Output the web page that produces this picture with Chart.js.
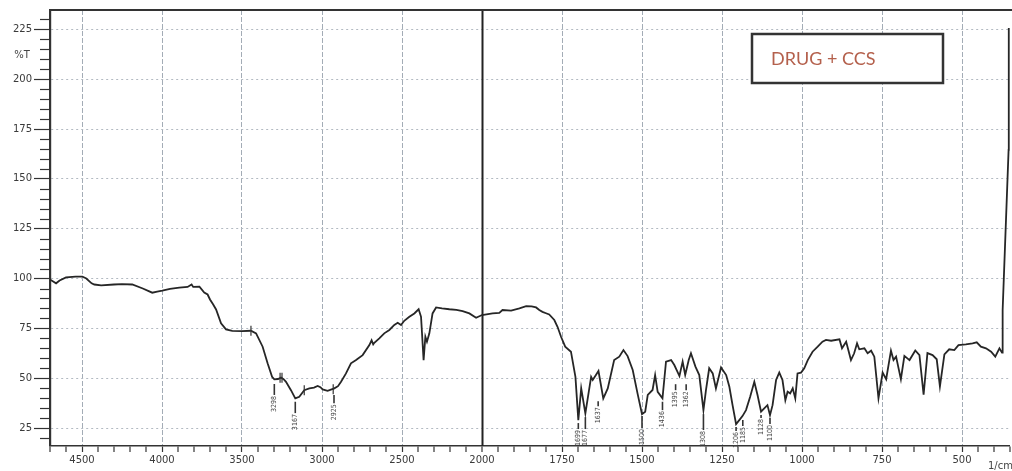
<!DOCTYPE html>
<html><head><meta charset="utf-8">
<script src="https://cdn.jsdelivr.net/npm/chart.js@4.4.1/dist/chart.umd.min.js"></script>
<style>html,body{margin:0;padding:0;background:#fff;overflow:hidden}canvas{display:block}</style>
</head><body>
<canvas id="c" width="1012" height="471"></canvas>
<script>
// ---- data (wavenumber 1/cm, %T) ----
const wavenumbers = [
4704,4690,4662,4640,4600,4540,4498,4473,4440,4423,4380,4300,4250,4186,4120,4061,4030,3998,3950,3892,3840,3815,3805,3766,3736,3715,3700,3680,3662,3631,3600,3561,3500,3444,3412,3371,3340,3312,3298,3275,3256,3240,3225,3194,3167,3142,3111,3079,3050,3027,3010,2996,2965,2923,2900,2881,2850,2819,2787,2746,2704,2690,2680,2673,2642,2611,2579,2548,2527,2506,2486,2454,2423,2396,2381,2365,2354,2344,2329,2309,2287,2250,2204,2160,2121,2079,2037,2000,
1967,1946,1936,1909,1883,1862,1845,1831,1821,1811,1800,1790,1774,1764,1753,1740,1722,1708,1699,1690,1677,1659,1654,1644,1636,1621,1607,1587,1571,1558,1545,1529,1514,1500,1490,1482,1467,1459,1451,1436,1425,1409,1399,1383,1373,1365,1354,1347,1333,1321,1308,1300,1290,1279,1269,1253,1237,1227,1217,1206,1196,1186,1175,1162,1149,1139,1128,1118,1108,1100,1092,1081,1071,1061,1052,1045,1037,1029,1021,1014,1003,993,982,967,951,936,925,909,883,875,862,847,837,828,821,805,795,784,774,761,748,737,722,714,706,691,680,664,646,633,620,608,592,579,569,555,540,524,511,488,467,454,441,425,409,396,383,375,373,354.4,353.8
];
const transmittance = [
99.5,99.0,97.6,99.0,100.6,101.0,101.0,100.0,97.6,97.0,96.6,97.0,97.2,97.0,95.0,92.9,93.4,93.9,94.8,95.4,95.8,97.0,95.8,95.9,93.0,92.0,89.5,87.0,84.5,77.5,74.5,73.7,73.6,73.8,72.5,65.8,57.5,50.7,49.4,49.6,50.3,49.5,48.2,44.0,39.9,40.7,44.0,44.9,45.3,46.1,45.5,44.4,43.7,44.9,46.0,48.2,52.4,57.5,59.1,61.6,66.6,69.0,67.0,67.8,70.0,72.5,74.2,76.7,77.8,76.7,78.8,80.8,82.5,84.6,80.8,59.1,70.8,68.3,72.5,82.5,85.5,85.0,84.6,84.3,83.7,82.5,80.3,81.7,
82.5,82.8,84.2,83.9,85.0,86.2,86.0,85.5,84.2,83.3,82.6,82.0,79.2,75.8,70.8,65.8,63.3,50.7,29.0,44.9,32.4,50.7,49.1,51.6,53.6,39.9,44.9,59.1,60.8,64.1,61.1,54.1,42.4,32.0,33.2,41.6,44.1,51.6,43.2,39.9,58.3,59.1,56.6,51.1,58.3,51.6,59.1,62.5,55.8,51.6,34.0,44.1,55.0,52.4,44.9,55.4,51.6,45.7,36.5,27.0,29.0,31.0,34.0,40.7,48.2,41.6,33.2,34.9,36.5,31.5,36.5,49.1,52.8,49.1,39.0,43.2,42.4,44.9,39.9,52.4,52.8,55.0,59.1,63.3,65.8,68.3,69.2,68.8,69.5,65.0,68.3,59.1,62.5,67.5,64.5,65.0,62.5,63.8,60.8,39.9,52.8,49.5,63.8,59.1,60.8,49.5,61.2,59.1,63.9,61.6,41.8,62.6,61.6,59.5,45.9,62.0,64.5,64.1,66.6,67.0,67.5,68.0,65.8,65.0,63.3,60.8,65.0,62.8,84.2,164.5,225.7
];
const xTickLabels = [4500,4000,3500,3000,2500,2000,1750,1500,1250,1000,750,500];
const yTickLabels = [25,50,75,100,125,150,175,200,225];
// labelled peak markers: wavenumber, bar top / bottom in %T
const peakWn     = [3298,3167,2925,1699,1677,1637,1500,1436,1395,1362,1308,1206,1185,1128,1100];
const peakTop    = [47.1,38.2,41.6,27.5,30.5,38.5,31.0,38.2,47.0,47.0,32.0,25.5,29.0,31.5,30.0];
const peakBottom = [41.6,32.5,37.5,24.5,24.5,36.0,25.0,34.0,44.0,44.0,24.0,23.5,26.0,30.0,27.0];
// small unlabelled marks crossing the trace: wavenumber, centre %T
const crossWn    = [3444,3262,3250,3111,2930];
const crossValue = [73.8,50.2,50.2,44.0,44.5];
const seriesLabel = 'DRUG + CCS';
const yTitle = '%T';
const xUnit = '1/cm';

// ---- axis transform: scale doubles below 2000 1/cm ----
const BREAK = 2000;
const toAxis = w => w > BREAK ? BREAK + (w - BREAK) / 2 : w;
const fromAxis = t => t > BREAK ? BREAK + (t - BREAK) * 2 : t;

const points = wavenumbers.map((w, i) => ({x: toAxis(w), y: transmittance[i]}));
const FONT = '"DejaVu Sans", sans-serif';

const decor = {
  id: 'decor',
  beforeDatasetsDraw(chart) {
    const {ctx, chartArea: a, scales: {x}} = chart;
    ctx.save();
    const px = Math.round(x.getPixelForValue(toAxis(BREAK))) + 0.5;
    ctx.strokeStyle = '#222'; ctx.lineWidth = 2;
    ctx.beginPath(); ctx.moveTo(px, a.top); ctx.lineTo(px, a.bottom); ctx.stroke();
    ctx.strokeStyle = '#333'; ctx.lineWidth = 2;
    ctx.beginPath(); ctx.moveTo(a.left - 1, a.top); ctx.lineTo(chart.width, a.top); ctx.stroke();
    ctx.restore();
  },
  afterDatasetsDraw(chart) {
    const {ctx, chartArea: a, scales: {x, y}} = chart;
    ctx.save();
    // peak markers
    ctx.strokeStyle = '#333'; ctx.lineWidth = 1.6; ctx.fillStyle = '#444';
    ctx.font = '7px "DejaVu Sans Condensed", ' + FONT;
    peakWn.forEach((w, i) => {
      const px = x.getPixelForValue(toAxis(w));
      const y1 = y.getPixelForValue(peakTop[i]), y2 = y.getPixelForValue(peakBottom[i]);
      ctx.beginPath(); ctx.moveTo(px, y1); ctx.lineTo(px, y2); ctx.stroke();
      ctx.save(); ctx.translate(px, y2 + 1); ctx.rotate(-Math.PI / 2);
      ctx.textAlign = 'right'; ctx.textBaseline = 'middle';
      ctx.fillText(String(w), 0, 0); ctx.restore();
    });
    ctx.lineWidth = 1.2;
    crossWn.forEach((w, i) => {
      const px = x.getPixelForValue(toAxis(w));
      ctx.beginPath();
      ctx.moveTo(px, y.getPixelForValue(crossValue[i] + 2.5));
      ctx.lineTo(px, y.getPixelForValue(crossValue[i] - 2.5));
      ctx.stroke();
    });
    // minor y ticks
    ctx.strokeStyle = '#333'; ctx.lineWidth = 1.2;
    for (let v = 20; v <= 230; v += 5) {
      if (v % 25 === 0) continue;
      const py = Math.round(y.getPixelForValue(v)) + 0.5;
      ctx.beginPath(); ctx.moveTo(a.left - 10, py); ctx.lineTo(a.left, py); ctx.stroke();
    }
    // texts
    ctx.fillStyle = '#444'; ctx.font = '10px ' + FONT;
    ctx.textAlign = 'center'; ctx.textBaseline = 'middle';
    ctx.fillText(yTitle, 22, 55);
    ctx.textAlign = 'left';
    ctx.fillText(xUnit, 988, 466);
    // legend box
    ctx.fillStyle = '#fff';
    ctx.fillRect(752, 34, 191, 49);
    ctx.strokeStyle = '#333'; ctx.lineWidth = 2.5;
    ctx.strokeRect(752, 34, 191, 49);
    ctx.fillStyle = '#b4604c';
    ctx.font = '18px Lato, "Open Sans", sans-serif';
    ctx.textAlign = 'left'; ctx.textBaseline = 'middle';
    ctx.fillText(seriesLabel, 771, 59);
    ctx.restore();
  }
};

const xTicks = [];
for (let t = toAxis(350); t <= toAxis(4700); t += 50) xTicks.push(t);
const yTicks = [];
for (let v = 20; v <= 230; v += 5) yTicks.push(v);
const isXMajor = t => xTickLabels.includes(fromAxis(t));

new Chart(document.getElementById('c'), {
  type: 'line',
  data: {datasets: [{
    label: seriesLabel, data: points,
    borderColor: '#262626', borderWidth: 1.8, pointRadius: 0, tension: 0, fill: false
  }]},
  options: {
    responsive: false, animation: false, devicePixelRatio: 1,
    parsing: false,
    layout: {padding: {top: 10, right: 2, left: 0, bottom: 0}},
    plugins: {legend: {display: false}, tooltip: {enabled: false}},
    scales: {
      x: {
        type: 'linear', reverse: true, min: toAxis(350), max: toAxis(4700),
        afterBuildTicks: s => { s.ticks = xTicks.map(v => ({value: v})); },
        afterFit: s => { s.height = 25; },
        ticks: {
          autoSkip: false, maxRotation: 0, padding: 2, color: '#3a3a3a',
          font: {family: FONT, size: 10},
          callback: v => { const w = fromAxis(v); return xTickLabels.includes(w) ? String(w) : ''; }
        },
        grid: {
          drawOnChartArea: true, drawTicks: true, tickLength: 6,
          lineWidth: c => (c.tick && isXMajor(c.tick.value) && fromAxis(c.tick.value) !== BREAK) ? 1 : 0,
          color: '#a3acb6',
          tickColor: '#333', tickWidth: 1.2
        },
        border: {display: true, color: '#333', width: 1.6, dash: [5, 2]}
      },
      y: {
        type: 'linear', min: 16, max: 234.7,
        afterBuildTicks: s => { s.ticks = yTicks.map(v => ({value: v})); },
        afterFit: s => { s.width = 50; },
        ticks: {
          autoSkip: false, padding: 2, color: '#3a3a3a',
          font: {family: FONT, size: 10},
          callback: v => yTickLabels.includes(v) ? String(v) : ''
        },
        grid: {
          drawOnChartArea: true, drawTicks: true, tickLength: 16,
          lineWidth: c => (c.tick && yTickLabels.includes(c.tick.value)) ? 1 : 0,
          color: '#b3bac2',
          tickColor: c => (c.tick && yTickLabels.includes(c.tick.value)) ? '#333' : 'rgba(0,0,0,0)',
          tickWidth: 1.2
        },
        border: {display: true, color: '#333', width: 2.2, dash: [2, 3]}
      }
    }
  },
  plugins: [decor]
});
</script>
</body></html>
